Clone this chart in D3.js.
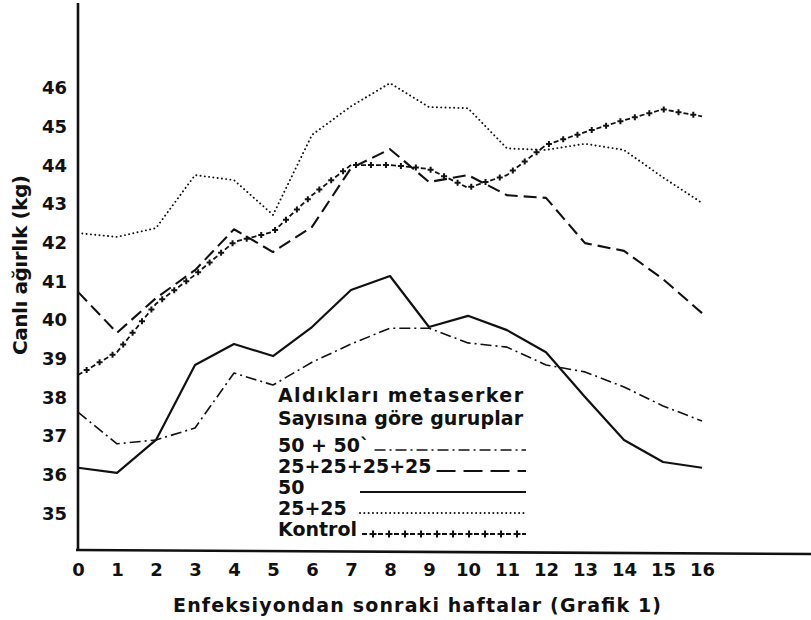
<!DOCTYPE html>
<html>
<head>
<meta charset="utf-8">
<script src="https://cdn.jsdelivr.net/npm/d3@7/dist/d3.min.js"></script>
<style>
  body { margin: 0; background: #fff; }
  svg text { font-family: "DejaVu Sans", sans-serif; fill: #111; }
</style>
</head>
<body>
<div id="chart"></div>
<script>
// Canlı ağırlık, enfeksiyondan sonraki haftalara göre (Grafik 1).

const weeks = [0, 1, 2, 3, 4, 5, 6, 7, 8, 9, 10, 11, 12, 13, 14, 15, 16];
const yTicks = [35, 36, 37, 38, 39, 40, 41, 42, 43, 44, 45, 46];

const grp50x50 = [37.62, 36.80, 36.90, 37.21, 38.63, 38.32, 38.91, 39.38, 39.79,
                  39.79, 39.41, 39.30, 38.84, 38.66, 38.27, 37.78, 37.39];
const grp25x4 = [40.73, 39.67, 40.57, 41.29, 42.35, 41.76, 42.41, 43.93, 44.42,
                 43.57, 43.75, 43.23, 43.16, 41.99, 41.79, 41.06, 40.18];
const grp50 = [36.18, 36.05, 36.90, 38.84, 39.38, 39.07, 39.82, 40.78, 41.14,
               39.82, 40.11, 39.74, 39.17, 38.01, 36.90, 36.33, 36.18];
const grp25x2 = [42.25, 42.15, 42.38, 43.75, 43.62, 42.72, 44.79, 45.53, 46.13,
                 45.51, 45.48, 44.44, 44.40, 44.56, 44.40, 43.69, 43.03];
const kontrol = [38.58, 39.17, 40.42, 41.17, 42.02, 42.28, 43.23, 44.01, 44.01,
                 43.91, 43.42, 43.75, 44.53, 44.86, 45.17, 45.45, 45.27];

const seriesNames = ['50 + 50`', '25+25+25+25', '50', '25+25', 'Kontrol'];
const seriesValues = [grp50x50, grp25x4, grp50, grp25x2, kontrol];
const legendHeader = ['Aldıkları metaserker', 'Sayısına göre guruplar'];

const xTitle = 'Enfeksiyondan  sonraki  haftalar   (Grafik  1)';
const yTitle = 'Canlı ağırlık (kg)';

// Line styles per group.
const styles = [
    { width: 1.6, dash: '11,4,2,4', legendDash: '11,4,2,4' },
    { width: 2.1, dash: '13,6', legendDash: '19,8' },
    { width: 2.2, dash: null, legendDash: null },
    { width: 1.9, dash: '0.1,4.2', legendDash: '0.1,4.2', round: true },
    { width: 1.8, dash: '5,10', legendDash: '5,11', crosses: true }
];

const width = 811;
const height = 620;

const svg = d3.select('#chart')
    .append('svg')
    .attr('width', width)
    .attr('height', height)
    .style('display', 'block');

svg.append('rect')
    .attr('width', width)
    .attr('height', height)
    .attr('fill', '#fff');

const x = d3.scaleLinear().domain([0, 16]).range([78, 702]);
const y = d3.scaleLinear().domain([35, 46]).range([513.4, 88.1]);
const axisY = 550;

// Axis lines.
svg.append('line')
    .attr('x1', x(0)).attr('x2', x(0))
    .attr('y1', 3).attr('y2', axisY + 1)
    .attr('stroke', '#111').attr('stroke-width', 2.6);

svg.append('line')
    .attr('x1', x(0) - 2).attr('x2', width)
    .attr('y1', axisY).attr('y2', axisY + 4)
    .attr('stroke', '#111').attr('stroke-width', 2.6);

// Tick labels.
const yAxis = svg.append('g')
    .attr('transform', `translate(${x(0)},0)`)
    .call(d3.axisLeft(y).tickValues(yTicks).tickSize(0).tickPadding(11));
yAxis.select('.domain').remove();
yAxis.selectAll('text')
    .attr('font-size', 18)
    .attr('font-weight', 'bold')
    .attr('font-family', '"DejaVu Sans", sans-serif')
    .attr('fill', '#111');

const xAxis = svg.append('g')
    .attr('transform', `translate(0,${axisY})`)
    .call(d3.axisBottom(x).tickValues(weeks).tickFormat(d3.format('d')).tickSize(0).tickPadding(13));
xAxis.select('.domain').remove();
xAxis.selectAll('text')
    .attr('font-size', 18)
    .attr('font-weight', 'bold')
    .attr('font-family', '"DejaVu Sans", sans-serif')
    .attr('fill', '#111');

// Axis titles.
svg.append('text')
    .attr('x', 417)
    .attr('y', 612)
    .attr('text-anchor', 'middle')
    .attr('font-size', 19)
    .attr('font-weight', 'bold')
    .attr('textLength', 488)
    .attr('lengthAdjust', 'spacing')
    .text(xTitle);

svg.append('text')
    .attr('transform', 'translate(27,265) rotate(-90)')
    .attr('text-anchor', 'middle')
    .attr('font-size', 20)
    .attr('font-weight', 'bold')
    .attr('textLength', 180)
    .attr('lengthAdjust', 'spacing')
    .text(yTitle);

// Series lines.
const line = d3.line()
    .x((d, i) => x(weeks[i]))
    .y(d => y(d));

function addCrosses(g, pathNode, step, start, arm) {
    const len = pathNode.getTotalLength();
    const pts = d3.range(start, len, step).map(l => pathNode.getPointAtLength(l));
    g.selectAll(null)
        .data(pts)
        .enter()
        .append('path')
        .attr('d', p => `M${p.x - arm},${p.y}H${p.x + arm}M${p.x},${p.y - arm}V${p.y + arm}`)
        .attr('stroke', '#111')
        .attr('stroke-width', 2);
}

const plot = svg.append('g');
seriesValues.forEach((vals, i) => {
    const st = styles[i];
    const p = plot.append('path')
        .datum(vals)
        .attr('d', line)
        .attr('fill', 'none')
        .attr('stroke', '#111')
        .attr('stroke-width', st.width)
        .attr('stroke-linejoin', 'round')
        .attr('stroke-linecap', st.round ? 'round' : 'butt')
        .attr('stroke-dasharray', st.dash);
    if (st.crosses) addCrosses(plot, p.node(), 15, 10, 3);
});

// Legend.
const legend = svg.append('g');
const legendX = 278;
const legendEnd = 526;

legend.selectAll('.hdr')
    .data(legendHeader)
    .enter()
    .append('text')
    .attr('class', 'hdr')
    .attr('x', legendX)
    .attr('y', (d, i) => 402 + i * 23)
    .attr('font-size', 19)
    .attr('font-weight', 'bold')
    .attr('textLength', 245)
    .attr('lengthAdjust', 'spacing')
    .text(d => d);

seriesNames.forEach((name, i) => {
    const st = styles[i];
    const rowY = 452 + i * 21;
    const t = legend.append('text')
        .attr('x', legendX)
        .attr('y', rowY)
        .attr('font-size', 19)
        .attr('font-weight', 'bold')
        .text(name);
    const textEnd = legendX + t.node().getComputedTextLength();
    const sx = Math.max(textEnd + 5, 360);
    const sy = rowY - 2;
    const sample = legend.append('path')
        .attr('d', d3.line()([[sx, sy], [legendEnd, sy]]))
        .attr('fill', 'none')
        .attr('stroke', '#111')
        .attr('stroke-width', st.width)
        .attr('stroke-linecap', st.round ? 'round' : 'butt')
        .attr('stroke-dasharray', st.legendDash);
    if (st.crosses) addCrosses(legend, sample.node(), 16, 11, 3.5);
});
</script>
</body>
</html>
